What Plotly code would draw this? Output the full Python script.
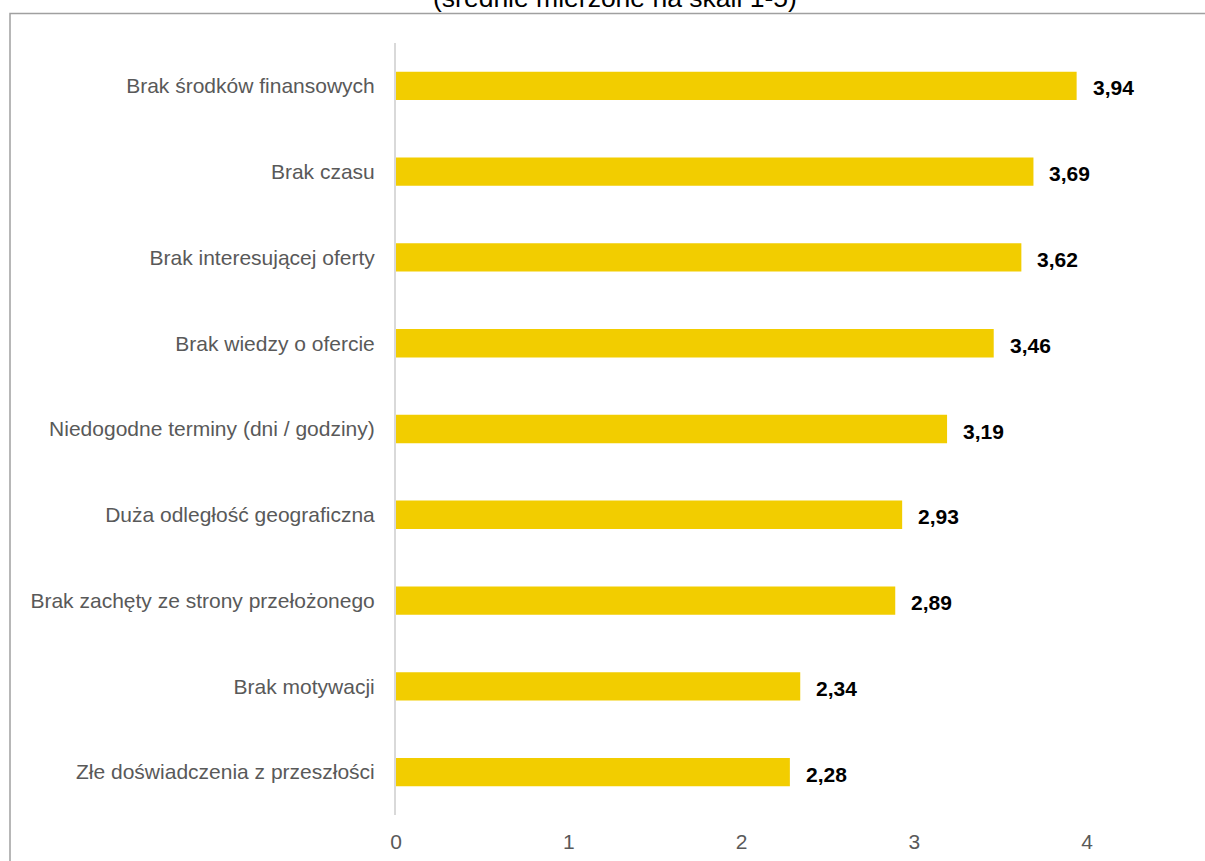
import plotly.graph_objects as go

categories = [
    "Brak środków finansowych",
    "Brak czasu",
    "Brak interesującej oferty",
    "Brak wiedzy o ofercie",
    "Niedogodne terminy (dni / godziny)",
    "Duża odległość geograficzna",
    "Brak zachęty ze strony przełożonego",
    "Brak motywacji",
    "Złe doświadczenia z przeszłości",
]
values = [3.94, 3.69, 3.62, 3.46, 3.19, 2.93, 2.89, 2.34, 2.28]
tick_vals = [0, 1, 2, 3, 4]
title_text = "(średnie mierzone na skali 1-5)"

W, H = 1205, 861
L, R, T, B = 396, 0, 43, 46
pw, ph = W - L - R, H - T - B

def px(x):
    return (x - L) / pw

def py(y):
    return (H - B - y) / ph

FONT = "Liberation Sans, Arial"

fig = go.Figure()
fig.add_trace(go.Bar(
    x=values, y=categories, orientation="h",
    marker=dict(color="#F2CD00", line=dict(width=0)),
    hoverinfo="skip",
))

for c, v in zip(categories, values):
    fig.add_annotation(
        x=v, y=c, xref="x", yref="y",
        text="<b>" + f"{v:.2f}".replace(".", ",") + "</b>",
        showarrow=False, xanchor="left", xshift=14, yshift=-2,
        font=dict(family=FONT, size=21, color="#000000"),
    )

fig.add_annotation(
    x=px(615), y=py(-2.5), xref="paper", yref="paper",
    text=title_text, showarrow=False, xanchor="center", yanchor="middle",
    font=dict(family=FONT, size=26.5, color="#000000"),
)

# outer chart border
fig.add_shape(
    type="rect", xref="paper", yref="paper",
    x0=px(10), x1=px(1215), y0=py(13.5), y1=py(880),
    line=dict(color="#a0a0a0", width=1.5), fillcolor="rgba(0,0,0,0)",
    layer="below",
)

fig.update_layout(
    width=W, height=H,
    margin=dict(l=L, r=R, t=T, b=B, autoexpand=False),
    paper_bgcolor="white", plot_bgcolor="white",
    bargap=0.67, showlegend=False,
    font=dict(family=FONT, color="#595959"),
    xaxis=dict(
        range=[0, pw / 172.75], tickvals=tick_vals,
        ticktext=[str(t) for t in tick_vals],
        showgrid=False, zeroline=False, showline=False,
        tickfont=dict(size=21, color="#595959"),
        ticks="", ticklabelstandoff=12, fixedrange=True,
    ),
    yaxis=dict(
        categoryorder="array", categoryarray=categories,
        autorange="reversed",
        showgrid=False, zeroline=False,
        showline=True, linecolor="#d9d9d9", linewidth=2,
        tickfont=dict(size=21, color="#595959"),
        ticks="", ticklabelstandoff=15, fixedrange=True,
    ),
)

fig.write_html("out.html")
